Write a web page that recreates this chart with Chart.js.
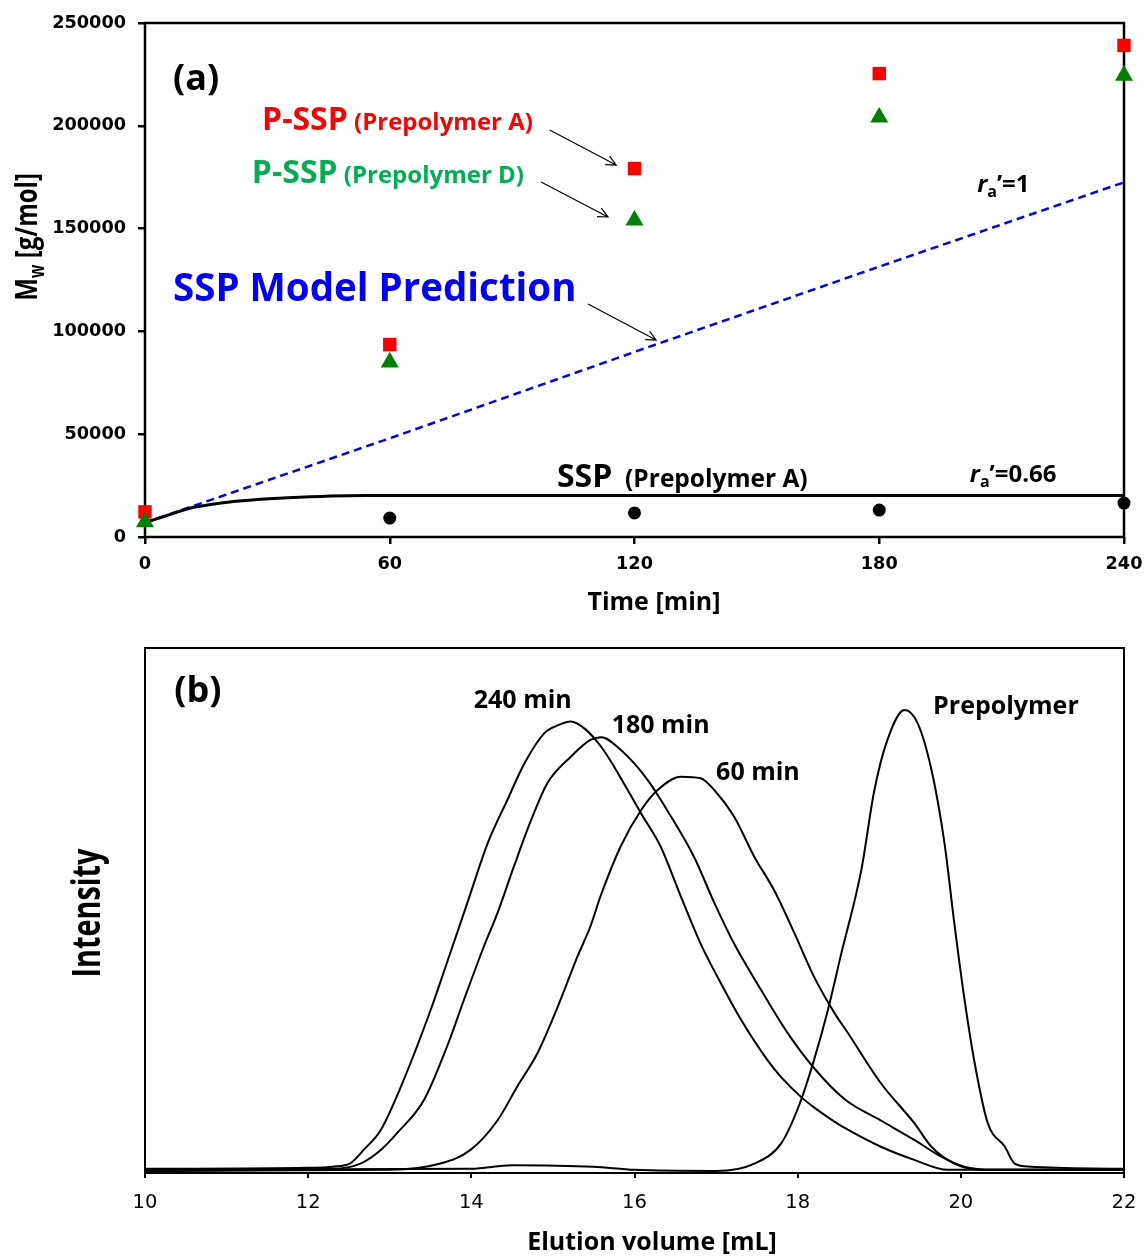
<!DOCTYPE html>
<html>
<head>
<meta charset="utf-8">
<title>SSP molecular weight and GPC traces</title>
<script src="https://cdn.jsdelivr.net/npm/chart.js@4.4.1/dist/chart.umd.min.js"></script>
<style>
    body { margin: 0; background: #fff; }
    .panel { position: absolute; left: 0; width: 1144px; }
    #panelA { top: 0; height: 620px; }
    #panelB { top: 620px; height: 636px; }
</style>
</head>
<body>
<div class="panel" id="panelA"><canvas id="chartA" width="1144" height="620"></canvas></div>
<div class="panel" id="panelB"><canvas id="chartB" width="1144" height="636"></canvas></div>
<script>
// ---- (a) Mw vs reaction time ----
const pSspTime = [0, 60, 120, 180, 240];
const pSspMwA = [12200, 93600, 179200, 225400, 239100];
const pSspMwD = [7300, 85000, 154000, 204100, 224500];
const sspTime = [60, 120, 180, 240];
const sspMwA = [9200, 11700, 13100, 16500];
// model curves: r_a' = 0.66 (solid) and r_a' = 1 (dashed)
const model066Time = [0, 5, 11, 17, 23, 35, 54, 240];
const model066Mw = [7000, 10200, 14000, 16000, 17500, 19100, 20200, 20200];
const model1Time = [0, 60, 120, 180, 240];
const model1Mw = [7000, 48000, 90000, 131500, 172500];

// ---- (b) GPC traces, elution volume [mL] vs normalised signal ----
const elution240 = [10, 12.0, 12.3, 12.52, 12.68, 12.89, 13.17, 13.5, 13.7, 13.95, 14.2, 14.44, 14.65, 14.89, 15.05, 15.22, 15.4, 15.6, 15.75, 16.08, 16.32, 16.57, 16.81, 17.06, 17.31, 17.63, 17.8, 18.04, 18.2, 18.45, 18.61, 19.02, 19.43, 19.84, 20.2, 22];
const signal240 = [0.008, 0.01, 0.012, 0.019, 0.044, 0.082, 0.177, 0.31, 0.40, 0.514, 0.628, 0.71, 0.78, 0.837, 0.852, 0.86, 0.845, 0.81, 0.774, 0.685, 0.622, 0.526, 0.437, 0.361, 0.291, 0.215, 0.182, 0.145, 0.125, 0.098, 0.083, 0.05, 0.025, 0.006, 0.006, 0.006];
const elution180 = [10, 12.3, 12.64, 12.89, 13.09, 13.42, 13.7, 13.91, 14.15, 14.32, 14.52, 14.73, 14.93, 15.22, 15.46, 15.59, 15.83, 16.16, 16.4, 16.73, 16.98, 17.22, 17.55, 17.88, 18.2, 18.58, 19.02, 19.43, 19.76, 20.04, 20.4, 22];
const signal180 = [0.005, 0.008, 0.018, 0.044, 0.076, 0.139, 0.24, 0.33, 0.43, 0.495, 0.583, 0.671, 0.742, 0.793, 0.825, 0.83, 0.806, 0.749, 0.691, 0.602, 0.514, 0.437, 0.349, 0.266, 0.2, 0.14, 0.1, 0.063, 0.031, 0.012, 0.006, 0.006];
const elution60 = [10, 13.0, 13.62, 13.99, 14.32, 14.56, 14.81, 15.06, 15.3, 15.46, 15.59, 15.83, 16.08, 16.28, 16.57, 16.81, 16.98, 17.22, 17.47, 17.71, 17.96, 18.2, 18.45, 18.61, 19.02, 19.43, 19.64, 19.92, 20.25, 22];
const signal60 = [0.004, 0.006, 0.018, 0.044, 0.1, 0.164, 0.228, 0.317, 0.412, 0.47, 0.53, 0.622, 0.691, 0.729, 0.755, 0.752, 0.729, 0.679, 0.602, 0.539, 0.457, 0.374, 0.305, 0.268, 0.171, 0.095, 0.05, 0.018, 0.006, 0.006];
const elutionPre = [10, 14.0, 14.5, 15.5, 16.0, 17.0, 17.47, 17.8, 18.02, 18.2, 18.37, 18.53, 18.78, 18.94, 19.1, 19.31, 19.47, 19.64, 19.8, 19.92, 20.04, 20.17, 20.33, 20.54, 20.66, 20.86, 22];
const signalPre = [0.006, 0.008, 0.015, 0.012, 0.006, 0.004, 0.018, 0.057, 0.13, 0.215, 0.31, 0.415, 0.577, 0.729, 0.825, 0.882, 0.857, 0.768, 0.628, 0.476, 0.336, 0.209, 0.095, 0.05, 0.018, 0.012, 0.008];

const TEXT_FONT = '"Open Sans", sans-serif';
const TICK_FONT = '"DejaVu Sans", sans-serif';
const bold = (size, extra = '') => `${extra} bold ${size}px ${TEXT_FONT}`.trim();

Chart.defaults.font.family = TICK_FONT;
Chart.defaults.color = '#000';

function pairs(xs, ys) {
    return xs.map((x, i) => ({ x: x, y: ys[i] }));
}

// fixed axis boxes, so the plot area lands in the same place in both panels
function fixHeight(h) {
    return s => { s.height = h; s.paddingLeft = 0; s.paddingRight = 0; };
}
function fixWidth(w) {
    return s => { s.width = w; s.paddingTop = 0; s.paddingBottom = 0; };
}

// draw a row of text pieces (different sizes / sub-scripts) from a start point
function drawRuns(ctx, x, y, runs) {
    let cx = x;
    runs.forEach(r => {
        ctx.font = r.font;
        ctx.fillText(r.text, cx, y + (r.dy || 0));
        cx += ctx.measureText(r.text).width;
    });
}

function runsWidth(ctx, runs) {
    return runs.reduce((w, r) => { ctx.font = r.font; return w + ctx.measureText(r.text).width; }, 0);
}

function drawArrow(ctx, x1, y1, x2, y2) {
    const ang = Math.atan2(y2 - y1, x2 - x1);
    const head = 11;
    ctx.beginPath();
    ctx.moveTo(x1, y1);
    ctx.lineTo(x2, y2);
    ctx.moveTo(x2 - head * Math.cos(ang - 0.45), y2 - head * Math.sin(ang - 0.45));
    ctx.lineTo(x2, y2);
    ctx.lineTo(x2 - head * Math.cos(ang + 0.45), y2 - head * Math.sin(ang + 0.45));
    ctx.stroke();
}

// frame, text notes, arrows and the hand-set axis titles
const notesPlugin = {
    id: 'notes',
    beforeDatasetsDraw(chart, args, opts) {
        const { ctx, chartArea: a } = chart;
        ctx.save();
        ctx.strokeStyle = '#000';
        ctx.lineWidth = opts.frameWidth;
        ctx.strokeRect(a.left, a.top, a.right - a.left, a.bottom - a.top);
        ctx.restore();
    },
    afterDatasetsDraw(chart, args, opts) {
        const { ctx, scales: { x, y } } = chart;
        ctx.save();
        ctx.strokeStyle = '#000';
        ctx.lineWidth = 1.2;
        (opts.arrows || []).forEach(ar => {
            drawArrow(ctx, x.getPixelForValue(ar.from[0]), y.getPixelForValue(ar.from[1]),
                x.getPixelForValue(ar.to[0]), y.getPixelForValue(ar.to[1]));
        });
        ctx.textAlign = 'left';
        ctx.textBaseline = 'alphabetic';
        (opts.labels || []).forEach(lb => {
            ctx.fillStyle = lb.color || '#000';
            drawRuns(ctx, x.getPixelForValue(lb.x), y.getPixelForValue(lb.y), lb.runs);
        });
        ctx.restore();
    },
    afterDraw(chart, args, opts) {
        const { ctx } = chart;
        ctx.save();
        ctx.fillStyle = '#000';
        ctx.textAlign = 'left';
        ctx.textBaseline = 'alphabetic';
        const xt = opts.xTitle;
        if (xt) {
            drawRuns(ctx, xt.cx - runsWidth(ctx, xt.runs) / 2, xt.baseline, xt.runs);
        }
        const yt = opts.yTitle;
        if (yt) {
            const w = runsWidth(ctx, yt.runs);
            ctx.translate(yt.baseline, yt.cy);
            ctx.scale(yt.stretch, 1);
            ctx.rotate(-Math.PI / 2);
            drawRuns(ctx, -w / 2, 0, yt.runs);
        }
        ctx.restore();
    }
};

// ---- chart (a) ----
new Chart(document.getElementById('chartA'), {
    type: 'scatter',
    data: {
        datasets: [
            {
                label: 'P-SSP (Prepolymer D)',
                data: pairs(pSspTime, pSspMwD),
                pointStyle: 'triangle',
                pointRadius: 10.4,
                pointBorderWidth: 0,
                backgroundColor: '#008000',
                clip: false
            },
            {
                label: 'P-SSP (Prepolymer A)',
                data: pairs(pSspTime, pSspMwA),
                pointStyle: 'rect',
                pointRadius: 9.5,
                pointBorderWidth: 0,
                backgroundColor: '#FF0000',
                clip: false
            },
            {
                label: 'SSP (Prepolymer A)',
                data: pairs(sspTime, sspMwA),
                pointStyle: 'circle',
                pointRadius: 6.5,
                pointBorderWidth: 0,
                backgroundColor: '#000',
                clip: false
            },
            {
                label: "r_a' = 0.66",
                data: pairs(model066Time, model066Mw),
                showLine: true,
                pointRadius: 0,
                borderColor: '#000',
                borderWidth: 3,
                cubicInterpolationMode: 'monotone',
                clip: false
            },
            {
                label: "r_a' = 1",
                data: pairs(model1Time, model1Mw),
                showLine: true,
                pointRadius: 0,
                borderColor: '#0000FF',
                borderWidth: 2.5,
                borderDash: [8, 5],
                clip: false
            }
        ]
    },
    options: {
        responsive: false,
        animation: false,
        layout: { padding: { top: 23, right: 20, left: 0, bottom: 0 } },
        scales: {
            x: {
                type: 'linear',
                min: 0,
                max: 240,
                afterFit: fixHeight(83),
                border: { display: false },
                grid: { drawOnChartArea: false, color: '#000', lineWidth: 2.5, tickLength: 7 },
                ticks: { stepSize: 60, padding: 10, font: { size: 17.7, weight: 'bold' } }
            },
            y: {
                min: 0,
                max: 250000,
                afterFit: fixWidth(145),
                border: { display: false },
                grid: { drawOnChartArea: false, color: '#000', lineWidth: 2.5, tickLength: 7 },
                ticks: { stepSize: 50000, padding: 12, font: { size: 17.7, weight: 'bold' }, callback: v => String(v) }
            }
        },
        plugins: {
            legend: { display: false },
            tooltip: { enabled: false },
            notes: {
                frameWidth: 2.5,
                labels: [
                    { x: 6.86, y: 217400, runs: [{ text: '(a)', font: bold(36) }] },
                    { x: 28.7, y: 198000, color: '#FF0000', runs: [
                        { text: 'P-SSP', font: bold(32) }, { text: ' (Prepolymer A)', font: bold(24) }] },
                    { x: 26.2, y: 172200, color: '#00B050', runs: [
                        { text: 'P-SSP', font: bold(32) }, { text: ' (Prepolymer D)', font: bold(24) }] },
                    { x: 6.86, y: 115000, color: '#0000FF', runs: [{ text: 'SSP Model Prediction', font: bold(38.5) }] },
                    { x: 101, y: 24300, runs: [
                        { text: 'SSP', font: bold(32) }, { text: '  (Prepolymer A)', font: bold(24.5) }] },
                    { x: 204, y: 167800, runs: [
                        { text: 'r', font: bold(24, 'italic') }, { text: 'a', font: bold(16), dy: 5 },
                        { text: '\u2019=1', font: bold(24) }] },
                    { x: 202.2, y: 26750, runs: [
                        { text: 'r', font: bold(24, 'italic') }, { text: 'a', font: bold(16), dy: 5 },
                        { text: '\u2019=0.66', font: bold(24) }] }
                ],
                arrows: [
                    { from: [99.2, 197960], to: [115.5, 180940] },
                    { from: [97.1, 172670], to: [113.5, 155650] },
                    { from: [108.6, 113330], to: [125.3, 95820] }
                ],
                xTitle: { cx: 654, baseline: 610, runs: [{ text: 'Time [min]', font: bold(25) }] },
                yTitle: { baseline: 37, cy: 237, stretch: 1.3, runs: [
                    { text: 'M', font: bold(24) }, { text: 'w', font: bold(16), dy: 5 },
                    { text: ' [g/mol]', font: bold(24) }] }
            }
        }
    },
    plugins: [notesPlugin]
});

// ---- chart (b) ----
const gpcLine = (label, xs, ys) => ({
    label: label,
    data: pairs(xs, ys),
    showLine: true,
    pointRadius: 0,
    borderColor: '#000',
    borderWidth: 2,
    cubicInterpolationMode: 'monotone'
});

new Chart(document.getElementById('chartB'), {
    type: 'scatter',
    data: {
        datasets: [
            gpcLine('240 min', elution240, signal240),
            gpcLine('180 min', elution180, signal180),
            gpcLine('60 min', elution60, signal60),
            gpcLine('Prepolymer', elutionPre, signalPre)
        ]
    },
    options: {
        responsive: false,
        animation: false,
        layout: { padding: { top: 28, right: 20, left: 0, bottom: 0 } },
        scales: {
            x: {
                type: 'linear',
                min: 10,
                max: 22,
                afterFit: fixHeight(83),
                border: { display: false },
                grid: { drawOnChartArea: false, color: '#000', lineWidth: 2, tickLength: 5 },
                ticks: { stepSize: 2, padding: 13, font: { size: 19.5 } }
            },
            y: {
                min: 0,
                max: 1,
                afterFit: fixWidth(145),
                border: { display: false },
                grid: { display: false },
                ticks: { display: false }
            }
        },
        plugins: {
            legend: { display: false },
            tooltip: { enabled: false },
            notes: {
                frameWidth: 2,
                labels: [
                    { x: 10.36, y: 0.898, runs: [{ text: '(b)', font: bold(36) }] },
                    { x: 14.03, y: 0.886, runs: [{ text: '240 min', font: bold(25) }] },
                    { x: 15.72, y: 0.838, runs: [{ text: '180 min', font: bold(25) }] },
                    { x: 17.0, y: 0.749, runs: [{ text: '60 min', font: bold(25) }] },
                    { x: 19.66, y: 0.874, runs: [{ text: 'Prepolymer', font: bold(25) }] }
                ],
                xTitle: { cx: 652, baseline: 630, runs: [{ text: 'Elution volume [mL]', font: bold(25) }] },
                yTitle: { baseline: 100, cy: 293, stretch: 1.39, runs: [{ text: 'Intensity', font: bold(28.8) }] }
            }
        }
    },
    plugins: [notesPlugin]
});
</script>
</body>
</html>
